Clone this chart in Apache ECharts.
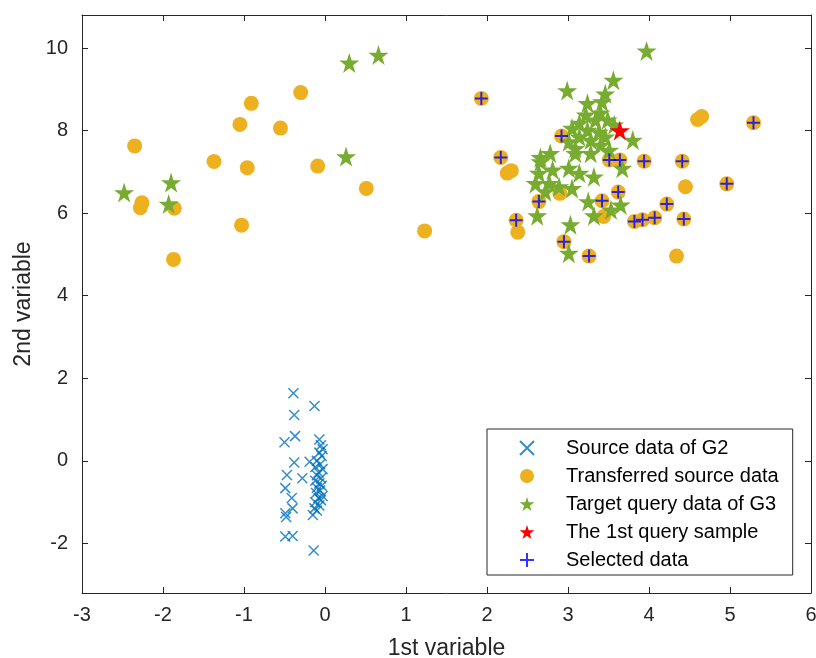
<!DOCTYPE html>
<html>
<head>
<meta charset="utf-8">
<script src="https://cdn.jsdelivr.net/npm/echarts@6/dist/echarts.min.js"></script>
<style>
  html, body { margin: 0; padding: 0; background: #fff; }
  #chart { width: 816px; height: 658px; }
</style>
</head>
<body>
<div id="chart"></div>
<script>
// series data
const sourceG2 = [
  [-0.39, 1.64], [-0.13, 1.33], [-0.38, 1.11], [-0.37, 0.60], [-0.50, 0.45], [-0.07, 0.52],
  [-0.05, 0.38], [-0.03, 0.28], [-0.07, 0.20], [-0.04, 0.12], [-0.38, -0.04], [-0.19, -0.02],
  [-0.10, 0.00], [-0.06, -0.08], [-0.12, -0.15], [-0.03, -0.20], [-0.47, -0.34], [-0.28, -0.42],
  [-0.08, -0.28], [-0.10, -0.35], [-0.05, -0.42], [-0.12, -0.48], [-0.07, -0.55], [-0.04, -0.60],
  [-0.49, -0.66], [-0.10, -0.65], [-0.06, -0.72], [-0.11, -0.78], [-0.03, -0.85], [-0.41, -0.90],
  [-0.08, -0.90], [-0.05, -0.95], [-0.12, -1.00], [-0.07, -1.08], [-0.40, -1.15], [-0.13, -1.15],
  [-0.49, -1.27], [-0.15, -1.31], [-0.48, -1.36], [-0.10, -1.20], [-0.49, -1.83], [-0.40, -1.82],
  [-0.14, -2.17]
];

const transferred = [
  [-2.35, 7.63], [-2.26, 6.25], [-2.28, 6.13], [-1.86, 6.12], [-1.87, 4.88], [-1.37, 7.25],
  [-1.05, 8.15], [-0.91, 8.66], [-0.55, 8.06], [-0.96, 7.10], [-1.03, 5.71], [-0.30, 8.92],
  [-0.09, 7.14], [0.51, 6.60], [1.23, 5.57],
  [1.93, 8.78], [2.17, 7.35], [2.25, 6.97], [2.30, 7.03], [2.36, 5.83], [2.38, 5.54],
  [2.64, 6.28], [2.90, 6.48], [2.92, 7.87], [2.95, 5.31], [3.26, 4.96], [3.42, 6.30],
  [3.44, 5.92], [3.51, 7.29], [3.62, 6.51], [3.64, 7.29], [3.82, 5.80], [3.92, 5.84],
  [3.94, 7.26], [4.07, 5.89], [4.22, 6.22], [4.34, 4.96], [4.41, 7.26], [4.43, 5.86],
  [4.45, 6.64], [4.60, 8.27], [4.65, 8.34], [4.96, 6.71], [5.29, 8.19]
];

const targetG3 = [
  [-2.48, 6.50], [-1.90, 6.74], [-1.93, 6.22], [0.26, 7.37], [0.30, 9.64], [0.66, 9.83], [3.97, 9.93],
  [3.56, 9.22], [2.99, 8.97], [3.46, 8.89], [3.42, 8.70], [3.24, 8.66], [3.22, 8.38], [3.40, 8.43],
  [3.49, 8.26], [3.34, 8.26], [3.14, 8.18], [3.57, 8.14], [3.05, 8.06], [3.24, 8.01], [3.38, 7.97],
  [3.46, 7.85], [3.80, 7.77], [3.14, 7.85], [3.28, 7.77], [3.01, 7.73], [3.40, 7.65], [3.09, 7.57],
  [3.51, 7.53], [2.78, 7.45], [2.66, 7.35], [3.28, 7.45], [2.66, 7.25], [3.09, 7.45], [2.64, 6.97],
  [2.81, 7.05], [3.01, 7.09], [3.14, 6.97], [3.32, 6.88], [3.67, 7.09], [2.60, 6.72], [2.77, 6.72],
  [2.89, 6.64], [3.05, 6.60], [2.72, 6.52], [3.25, 6.28], [3.65, 6.20], [3.53, 6.08], [3.32, 5.94],
  [2.62, 5.94], [3.03, 5.72], [3.01, 5.03]
];

const querySample = [[3.64, 8.00]];

const selected = [
  [1.93, 8.78], [2.17, 7.35], [2.36, 5.83], [2.64, 6.28], [2.92, 7.87], [2.95, 5.31], [3.26, 4.96],
  [3.42, 6.30], [3.51, 7.29], [3.62, 6.51], [3.64, 7.29], [3.82, 5.80], [3.92, 5.84], [3.94, 7.26],
  [4.07, 5.89], [4.22, 6.22], [4.41, 7.26], [4.43, 5.86], [4.96, 6.71], [5.29, 8.19]
];

const seriesNames = ['Source data of G2', 'Transferred source data', 'Target query data of G3',
  'The 1st query sample', 'Selected data'];
const yTicks = [-2, 0, 2, 4, 6, 8, 10];

const FONT = '"Liberation Sans", Arial, sans-serif';
const AX = '#262626';
const STAR = 'path://M50,0 L61.2,34.5 L97.6,34.5 L68.2,55.9 L79.4,90.5 L50,69.1 L20.6,90.5 L31.8,55.9 L2.4,34.5 L38.8,34.5 Z';
const CROSS = 'path://M0,0 L10,10 M10,0 L0,10';
const PLUS = 'path://M5,0 L5,10 M0,5 L10,5';

const chart = echarts.init(document.getElementById('chart'));

const xBase = {
  type: 'value', min: -3, max: 6, interval: 1,
  axisLine: { show: true, onZero: false, lineStyle: { color: AX, width: 1 } },
  axisTick: { show: true, inside: true, length: 6, lineStyle: { color: AX } },
  splitLine: { show: false }
};
const yBase = {
  type: 'value', min: -3.2, max: 10.8,
  axisLine: { show: true, onZero: false, lineStyle: { color: AX, width: 1 } },
  axisTick: { show: true, inside: true, length: 6, customValues: yTicks, lineStyle: { color: AX } },
  splitLine: { show: false }
};

chart.setOption({
  backgroundColor: '#fff',
  animation: false,
  grid: { left: 82, right: 5, top: 15, bottom: 65, outerBoundsMode: 'none', containLabel: false },
  xAxis: [
    Object.assign({}, xBase, {
      position: 'bottom',
      name: '1st variable', nameLocation: 'middle', nameGap: 44,
      nameTextStyle: { fontFamily: FONT, fontSize: 23, color: AX },
      axisLabel: { fontFamily: FONT, fontSize: 20, color: AX, margin: 12 }
    }),
    Object.assign({}, xBase, { position: 'top', axisLabel: { show: false } })
  ],
  yAxis: [
    Object.assign({}, yBase, {
      position: 'left',
      name: '2nd variable', nameLocation: 'middle', nameGap: 46,
      nameTextStyle: { fontFamily: FONT, fontSize: 23, color: AX },
      axisLabel: { fontFamily: FONT, fontSize: 20, color: AX, margin: 14, customValues: yTicks }
    }),
    Object.assign({}, yBase, { position: 'right', axisLabel: { show: false } })
  ],
  legend: {
    orient: 'vertical',
    left: 487, top: 429,
    padding: [9, 14, 5, 32],
    itemWidth: 68, itemHeight: 14, itemGap: 8,
    borderColor: AX, borderWidth: 1,
    backgroundColor: '#fff',
    textStyle: { fontFamily: FONT, fontSize: 20, color: '#000' },
    data: seriesNames
  },
  series: [
    {
      name: seriesNames[0], type: 'scatter', data: sourceG2,
      symbol: CROSS, symbolSize: 10,
      itemStyle: { color: 'transparent', borderColor: '#0072BD', borderWidth: 1.5 }
    },
    {
      name: seriesNames[1], type: 'scatter', data: transferred,
      symbol: 'circle', symbolSize: 15,
      itemStyle: { color: '#EDB120', opacity: 1 }
    },
    {
      name: seriesNames[2], type: 'scatter', data: targetG3,
      symbol: STAR, symbolSize: 20,
      itemStyle: { color: '#77AC30', opacity: 1 }
    },
    {
      name: seriesNames[3], type: 'scatter', data: querySample,
      symbol: STAR, symbolSize: 20,
      itemStyle: { color: '#FF0000', opacity: 1 }
    },
    {
      name: seriesNames[4], type: 'scatter', data: selected,
      symbol: PLUS, symbolSize: 13,
      itemStyle: { color: 'transparent', borderColor: '#0000FF', borderWidth: 2 }
    }
  ]
});
</script>
</body>
</html>
